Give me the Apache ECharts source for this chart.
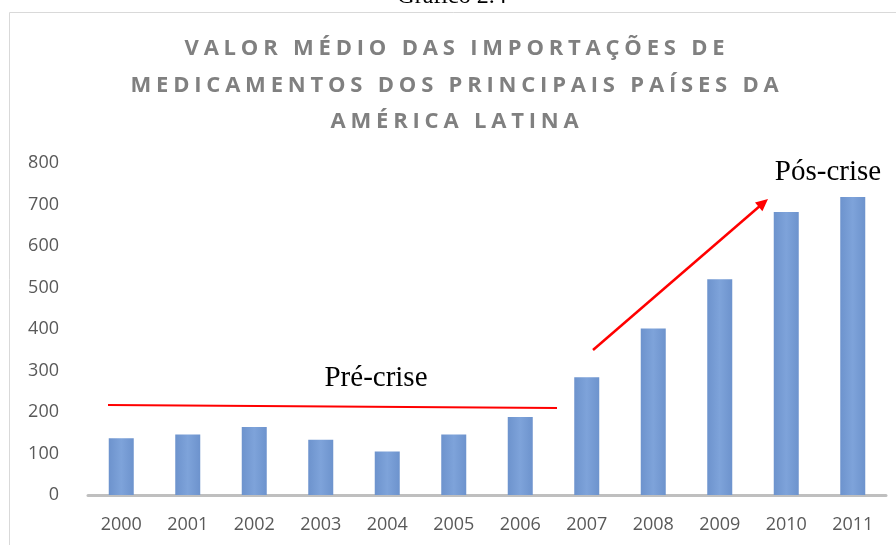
<!DOCTYPE html>
<html>
<head>
<meta charset="utf-8">
<script src="https://cdn.jsdelivr.net/npm/echarts@6/dist/echarts.min.js"></script>
<style>
  html, body { margin: 0; padding: 0; background: #fff; }
  .box { position: relative; width: 896px; height: 545px; overflow: hidden; }
  .caption {
    position: absolute; left: 0; width: 904px; top: -18px;
    text-align: center; font-family: 'Liberation Serif', serif; font-size: 24px; color: #000;
  }
  .title {
    position: absolute; left: 5px; width: 904px; top: 28px;
    text-align: center; font-family: 'Open Sans', sans-serif; font-weight: bold;
    font-size: 22px; line-height: 36.5px; letter-spacing: 4.8px; color: #808080;
  }
  .charts { position: absolute; left: 0; top: 0; width: 896px; height: 545px; }
</style>
</head>
<body>
<div class="box">
  <!-- gráfico -->
  <div class="charts" id="main"></div>
  <div class="caption">Gráfico 2.4</div>
  <div class="title">VALOR MÉDIO DAS IMPORTAÇÕES DE<br>MEDICAMENTOS DOS PRINCIPAIS PAÍSES DA<br>AMÉRICA LATINA</div>
</div>
<script>
// dados
const anos = ['2000', '2001', '2002', '2003', '2004', '2005', '2006', '2007', '2008', '2009', '2010', '2011']
const valores = [137, 146, 164, 133, 105, 146, 188, 284, 401, 520, 682, 718]
const yTicks = [0, 100, 200, 300, 400, 500, 600, 700, 800]

const mycharts = echarts.init(document.getElementById('main'))

mycharts.setOption({
  animation: false,
  grid: {
    left: 88,
    right: 10,
    top: 163,
    bottom: 50,
  },
  xAxis: {
    type: 'category',
    data: anos,
    axisLine: { lineStyle: { color: '#bfbfbf', width: 3 } },
    axisTick: { show: false },
    axisLabel: {
      color: '#595959',
      fontFamily: 'Open Sans',
      fontSize: 18,
      margin: 21,
    },
  },
  yAxis: {
    type: 'value',
    min: yTicks[0],
    max: yTicks[yTicks.length - 1],
    interval: 100,
    splitLine: { show: false },
    axisLine: { show: false },
    axisTick: { show: false },
    axisLabel: {
      color: '#595959',
      fontFamily: 'Open Sans',
      fontSize: 18,
      margin: 29,
    },
  },
  series: [
    {
      type: 'bar',
      data: valores,
      barWidth: 25,
      itemStyle: {
        color: {
          type: 'linear',
          x: 0, y: 0, x2: 1, y2: 0,
          colorStops: [
            { offset: 0, color: '#6d93cd' },
            { offset: 0.5, color: '#7ea3da' },
            { offset: 1, color: '#6d93cd' },
          ],
        },
      },
    },
  ],
  graphic: [
    // moldura
    {
      type: 'rect',
      shape: { x: 9.5, y: 12.5, width: 900, height: 540 },
      style: { fill: 'none', stroke: '#d9d9d9', lineWidth: 1 },
      silent: true,
    },
    // linha pré-crise
    {
      type: 'line',
      shape: { x1: 108, y1: 405, x2: 557, y2: 408 },
      style: { stroke: '#ff0000', lineWidth: 2 },
      z: 10,
    },
    {
      type: 'text',
      x: 376, y: 378,
      style: {
        text: 'Pré-crise',
        font: '29px "Liberation Serif"',
        fill: '#000',
        align: 'center',
        verticalAlign: 'middle',
      },
      z: 10,
    },
    // seta pós-crise
    {
      type: 'line',
      shape: { x1: 593, y1: 350, x2: 761, y2: 205 },
      style: { stroke: '#ff0000', lineWidth: 2.5 },
      z: 10,
    },
    {
      type: 'polygon',
      shape: { points: [[768, 199], [762.4, 211.2], [755, 202.6]] },
      style: { fill: '#ff0000' },
      z: 10,
    },
    {
      type: 'text',
      x: 828, y: 172,
      style: {
        text: 'Pós-crise',
        font: '29px "Liberation Serif"',
        fill: '#000',
        align: 'center',
        verticalAlign: 'middle',
      },
      z: 10,
    },
  ],
})
</script>
</body>
</html>
